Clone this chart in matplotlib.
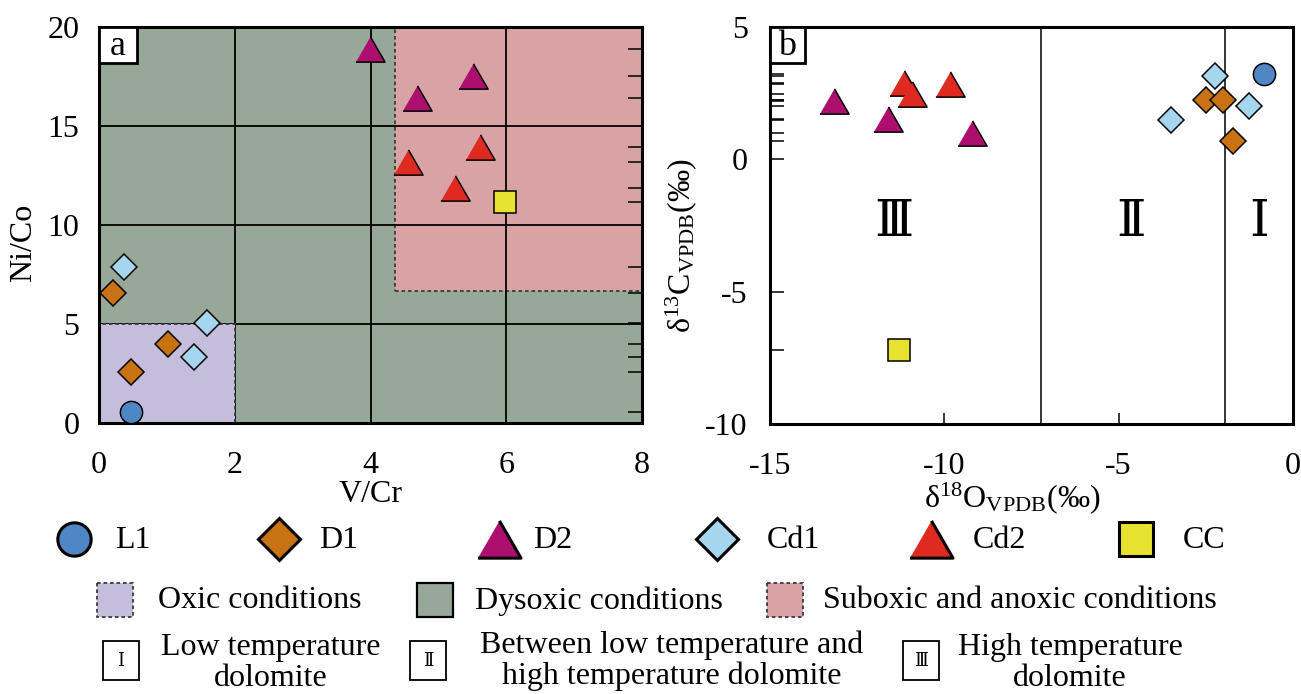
import matplotlib
matplotlib.use('Agg')
import matplotlib.pyplot as plt
from matplotlib.patches import Rectangle
from matplotlib.ticker import FixedLocator

plt.rcParams['font.family'] = ['Liberation Serif', 'DejaVu Serif']
plt.rcParams['mathtext.fontset'] = 'custom'
plt.rcParams['mathtext.rm'] = 'Liberation Serif'
plt.rcParams['mathtext.it'] = 'Liberation Serif:italic'
plt.rcParams['mathtext.bf'] = 'Liberation Serif:bold'
plt.rcParams['axes.unicode_minus'] = False

# ---- data: panel a (V/Cr vs Ni/Co)
L1_vcr = [0.47]
L1_nico = [0.55]
D1_vcr = [0.20, 1.01, 0.47]
D1_nico = [6.57, 4.00, 2.60]
D2_vcr = [3.99, 5.51, 4.68]
D2_nico = [18.87, 17.55, 16.40]
Cd1_vcr = [0.37, 1.59, 1.40]
Cd1_nico = [7.90, 5.05, 3.33]
Cd2_vcr = [5.62, 4.55, 5.24]
Cd2_nico = [13.93, 13.20, 11.88]
CC_vcr = [5.98]
CC_nico = [11.14]

# ---- data: panel b (d18O vs d13C)
L1_o = [-0.82]
L1_c = [3.23]
D1_o = [-2.50, -2.02, -1.73]
D1_c = [2.26, 2.26, 0.71]
D2_o = [-13.17, -11.62, -9.22]
D2_c = [2.21, 1.52, 1.01]
Cd1_o = [-2.23, -1.27, -3.50]
Cd1_c = [3.16, 2.00, 1.47]
Cd2_o = [-11.17, -10.92, -9.83]
Cd2_c = [2.89, 2.46, 2.84]
CC_o = [-11.30]
CC_c = [-7.21]

zone_bounds = [-7.22, -1.96]
zone_labels = ['Ⅲ', 'Ⅱ', 'Ⅰ']
zone_x = [-11.45, -4.66, -0.97]

groups = ['L1', 'D1', 'D2', 'Cd1', 'Cd2', 'CC']
colors = ['#4f86c4', '#c97214', '#ad0f6f', '#a6d6ee', '#de2a20', '#e8e231']
tri = [(-1, -0.866), (1, -0.866), (0, 0.866)]
markers = ['o', 'D', tri, 'D', tri, 's']
msize = [16, 13.5, 21, 13.5, 21, 15.5]
leg_msize = [24, 21, 31, 21, 31, 25]

panel_a = [(L1_vcr, L1_nico), (D1_vcr, D1_nico), (D2_vcr, D2_nico),
           (Cd1_vcr, Cd1_nico), (Cd2_vcr, Cd2_nico), (CC_vcr, CC_nico)]
panel_b = [(L1_o, L1_c), (D1_o, D1_c), (D2_o, D2_c),
           (Cd1_o, Cd1_c), (Cd2_o, Cd2_c), (CC_o, CC_c)]

W, H = 1301, 694
fig = plt.figure(figsize=(W / 100, H / 100), dpi=100)

FS = 23
dysoxic = '#97a898'
oxic = '#c4bedc'
suboxic = '#d9a3a6'
dot = (0, (2, 1.6))

# ---------------- panel a
ax1 = fig.add_axes([99 / W, 1 - 423 / H, 543 / W, 396 / H])
ax1.set_xlim(0, 8)
ax1.set_ylim(0, 20)
ax1.set_facecolor(dysoxic)
ax1.add_patch(Rectangle((4.36, 6.69), 8 - 4.36, 20 - 6.69, fc=suboxic,
                        ec='#3a3a3a', ls=dot, lw=1.3, zorder=0.5))
for gx in [2, 4, 6]:
    ax1.axvline(gx, color='k', lw=1.3, zorder=1)
for gy in [5, 10, 15]:
    ax1.axhline(gy, color='k', lw=1.3, zorder=1)
ax1.add_patch(Rectangle((0, 0), 2, 5, fc=oxic, ec='#3a3a3a', ls=dot,
                        lw=1.3, zorder=1.5))
for (xs, ys), c, m, s in zip(panel_a, colors, markers, msize):
    ax1.plot(xs, ys, ls='none', marker=m, ms=s, mfc=c, mec='k', mew=1.1,
             zorder=3, clip_on=False)
ax1.set_xticks([0, 2, 4, 6, 8])
ax1.set_yticks([0, 5, 10, 15, 20])
ax1.tick_params(which='major', length=0, labelsize=FS)
ax1.tick_params(axis='x', pad=20)
ax1.tick_params(axis='y', pad=14)
all_nico = [v for _, ys in panel_a for v in ys]
ax1.yaxis.set_minor_locator(FixedLocator(all_nico))
ax1.tick_params(which='minor', axis='y', left=False, right=True,
                direction='in', length=10, width=1.1)
for sp in ax1.spines.values():
    sp.set_linewidth(2.2)
ax1.set_xlabel('V/Cr', fontsize=FS)
ax1.set_ylabel('Ni/Co', fontsize=FS)
ax1.xaxis.set_label_coords(0.5, -0.145)
ax1.yaxis.set_label_coords(-0.112, 0.455)
ax1.add_patch(Rectangle((0, 0.909), 0.07, 0.091, transform=ax1.transAxes,
                        fc='white', ec='k', lw=2, zorder=5))
ax1.text(0.035, 0.952, 'a', transform=ax1.transAxes, fontsize=26,
         ha='center', va='center', zorder=6)

# ---------------- panel b
ax2 = fig.add_axes([770 / W, 1 - 424 / H, 523 / W, 397 / H])
ax2.set_xlim(-15, 0)
ax2.set_ylim(-10, 5)
for bx in zone_bounds:
    ax2.axvline(bx, color='k', lw=1.1, zorder=1)
for (xs, ys), c, m, s in zip(panel_b, colors, markers, msize):
    ax2.plot(xs, ys, ls='none', marker=m, ms=s, mfc=c, mec='k', mew=1.1,
             zorder=3, clip_on=False)
for zx, zl in zip(zone_x, zone_labels):
    ax2.text(zx, -2.45, zl, fontsize=36, ha='center', va='center',
             family=['Liberation Serif', 'DejaVu Serif'])
ax2.set_xticks([-15, -10, -5, 0])
ax2.set_yticks([-10, -5, 0, 5])
ax2.tick_params(which='major', direction='in', labelsize=FS, width=1.1)
ax2.tick_params(axis='x', length=8, pad=20)
ax2.tick_params(axis='y', length=10, pad=16)
all_c = [v for _, ys in panel_b for v in ys]
ax2.yaxis.set_minor_locator(FixedLocator(all_c))
ax2.tick_params(which='minor', axis='y', direction='in', length=10, width=1.1)
for sp in ax2.spines.values():
    sp.set_linewidth(2.2)
ax2.set_xlabel(r'δ$^{18}$O$_{\mathrm{VPDB}}$(‰)', fontsize=FS)
ax2.set_ylabel(r'δ$^{13}$C$_{\mathrm{VPDB}}$(‰)', fontsize=FS)
ax2.xaxis.set_label_coords(0.463, -0.142)
ax2.yaxis.set_label_coords(-0.135, 0.45)
ax2.add_patch(Rectangle((0, 0.909), 0.067, 0.091, transform=ax2.transAxes,
                        fc='white', ec='k', lw=2, zorder=5))
ax2.text(0.0335, 0.952, 'b', transform=ax2.transAxes, fontsize=26,
         ha='center', va='center', zorder=6)

# ---------------- legend (pixel coordinates)
lg = fig.add_axes([0, 0, 1, 1], zorder=-1)
lg.set_xlim(0, W)
lg.set_ylim(H, 0)
lg.axis('off')

mk_x = [74, 279, 499, 717, 931, 1136]
tx_x = [115, 319, 533, 767, 973, 1183]
for g, c, m, s, mx, tx in zip(groups, colors, markers, leg_msize, mk_x, tx_x):
    lg.plot([mx], [539], ls='none', marker=m, ms=s, mfc=c, mec='k', mew=2.2)
    lg.text(tx, 541, g, fontsize=FS, ha='left', va='center')

cond_names = ['Oxic conditions', 'Dysoxic conditions',
              'Suboxic and anoxic conditions']
cond_fc = [oxic, dysoxic, suboxic]
cond_ls = [dot, '-', dot]
cond_px = [97, 417, 767]
cond_tx = [158, 475, 823]
for name, fc, ls, px, tx in zip(cond_names, cond_fc, cond_ls, cond_px, cond_tx):
    lg.add_patch(Rectangle((px, 583), 36, 34, fc=fc,
                           ec='k' if ls == '-' else '#3a3a3a',
                           ls=ls, lw=1.6 if ls == '-' else 1.3))
    lg.text(tx, 601, name, fontsize=FS, ha='left', va='center')

zone_names = [('Low temperature', 'dolomite'),
              ('Between low temperature and', 'high temperature dolomite'),
              ('High temperature', 'dolomite')]
zone_legend_order = ['Ⅰ', 'Ⅱ', 'Ⅲ']
box_x = [103, 410, 903]
text_cx = [271, 672, 1070]
line_y = [(648, 678), (645, 676), (648, 678)]
for sym, (l1, l2), bx, cx, (y1, y2) in zip(zone_legend_order, zone_names,
                                           box_x, text_cx, line_y):
    lg.add_patch(Rectangle((bx, 641), 36, 39, fc='white', ec='k', lw=1.3))
    lg.text(bx + 18, 661, sym, fontsize=13, ha='center', va='center',
            family=['Liberation Serif', 'DejaVu Serif'])
    lg.text(cx, y1, l1, fontsize=FS, ha='center', va='center')
    lg.text(cx, y2, l2, fontsize=FS, ha='center', va='center')

fig.savefig('out.png', dpi=100)
